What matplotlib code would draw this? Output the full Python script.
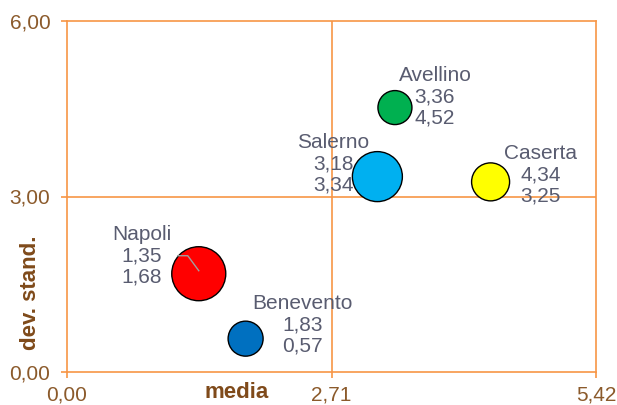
import matplotlib
matplotlib.use("Agg")
import matplotlib.pyplot as plt
import numpy as np

# data
province = ["Napoli", "Benevento", "Salerno", "Avellino", "Caserta"]
media = [1.35, 1.83, 3.18, 3.36, 4.34]
dev_stand = [1.68, 0.57, 3.34, 4.52, 3.25]
bubble_size = [27, 17.5, 25, 17, 19]   # relative bubble radius
colors = ["#FF0000", "#0070C0", "#00B0F0", "#00B050", "#FFFF00"]
x_ticks = [0.0, 2.71, 5.42]
y_ticks = [0.0, 3.0, 6.0]
x_title = "media"
y_title = "dev. stand."

# label offsets (pixels: dx right, dy up) relative to bubble centre
label_offsets = [(-57, 18), (57, 14), (-44, 13), (40, 11), (50, 7)]

plt.rcParams['font.family'] = ['Liberation Sans', 'DejaVu Sans']
ORANGE = "#F79646"
BROWN = "#8B5A2B"
TITLE_BROWN = "#7F4A1A"
LABEL_COL = "#595C70"

fig = plt.figure(figsize=(6.17, 4.05), dpi=100)
ax = fig.add_axes([67/617, 1-372/405, (596-67)/617, (372-21)/405])
ax.set_xlim(x_ticks[0], x_ticks[-1])
ax.set_ylim(y_ticks[0], y_ticks[-1])

for s in ax.spines.values():
    s.set_color(ORANGE)
    s.set_linewidth(1.2)

ax.axvline(x_ticks[1], color=ORANGE, lw=1.2, zorder=1)
ax.axhline(y_ticks[1], color=ORANGE, lw=1.2, zorder=1)

sizes = [(2*r*0.72)**2 for r in bubble_size]
ax.scatter(media, dev_stand, s=sizes, c=colors, edgecolors="black",
           linewidths=1.0, zorder=3)

def fmt(v):
    return f"{v:.2f}".replace('.', ',')

for i, name in enumerate(province):
    dx, dy = label_offsets[i]
    txt = f"{name}\n{fmt(media[i])}\n{fmt(dev_stand[i])}"
    ax.annotate(txt, (media[i], dev_stand[i]), xytext=(dx*0.72, dy*0.72),
                textcoords="offset points", ha="center", va="center",
                fontsize=15, color=LABEL_COL, linespacing=1.15, zorder=4)

# Napoli leader line (display pixel offsets from bubble centre)
cx, cy = ax.transData.transform((media[0], dev_stand[0]))
leader = np.array([(-21, 18), (-11, 18), (0, 3)], dtype=float)
pts = leader + np.array([cx, cy])
data_pts = ax.transData.inverted().transform(pts)
ax.plot(data_pts[:, 0], data_pts[:, 1], color="#A0A0A0", lw=1.0, zorder=5)

ax.set_xticks(x_ticks)
ax.set_yticks(y_ticks)
ax.set_xticklabels([fmt(v) for v in x_ticks])
ax.set_yticklabels([fmt(v) for v in y_ticks])
ax.tick_params(axis="both", colors=ORANGE, labelcolor=BROWN, labelsize=15,
               length=4, width=1.2, direction="out")
ax.tick_params(axis="x", pad=6)
ax.tick_params(axis="y", pad=8)

fig.text(237/617, 1-392/405, x_title, ha="center", va="center",
         fontsize=16, fontweight="bold", color=TITLE_BROWN)
fig.text(30/617, 1-293/405, y_title, ha="center", va="center", rotation=90,
         fontsize=16, fontweight="bold", color=TITLE_BROWN)

fig.savefig("out.png", dpi=100, facecolor="white")
